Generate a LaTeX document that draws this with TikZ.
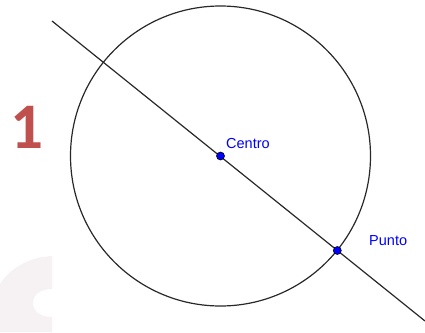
\documentclass[tikz,border=0pt]{standalone}
\usepackage{fontspec}
\setmainfont{Liberation Sans}
\newfontfamily\numfont{Carlito}
\definecolor{ggblue}{RGB}{0,0,255}
\definecolor{numred}{RGB}{192,80,77}
\definecolor{wmark}{RGB}{246,242,243}
\definecolor{geoline}{RGB}{40,40,40}
\tikzset{
  geo/.style={draw=geoline, line width=1.2pt},
  ggpoint/.style={circle, fill=ggblue, draw=black, line width=0.6pt, inner sep=0pt, minimum size=8pt},
  gglabel/.style={text=ggblue, font=\fontsize{14.5}{14.5}\selectfont, inner sep=0pt, anchor=base west}
}
\begin{document}
\begin{tikzpicture}[x=1pt,y=-1pt]
\useasboundingbox (0,0) rectangle (425,332);
% watermark
\fill[wmark] (52,256) .. controls (30,257) and (10,268) .. (0,284) -- (0,332) -- (52,332) -- (52,317)
  .. controls (40,317) and (33,311) .. (33,303) .. controls (33,295) and (40,289) .. (52,289) -- cycle;
% big number
\node[text=numred, font=\numfont\bfseries\fontsize{65}{65}\selectfont, inner sep=0pt, anchor=base] (num) at (27,148) {1};
% circle
\coordinate (C) at (220.5,156);
\draw[geo] (C) circle (150);
% line
\coordinate (L1) at (52,21);
\coordinate (L2) at (425,321);
\draw[geo] (L1) -- (L2);
% points
\node[ggpoint] (centro) at (C) {};
\node[ggpoint] (punto) at (337.3,250.5) {};
\node[gglabel] (lc) at (226,148) {Centro};
\node[gglabel] (lp) at (369,245.5) {Punto};
\end{tikzpicture}
\end{document}
